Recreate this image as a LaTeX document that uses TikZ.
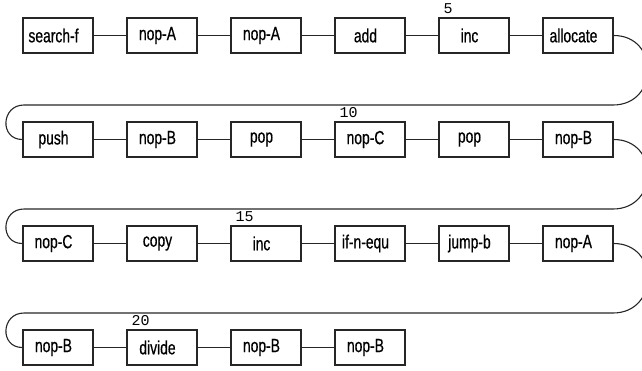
\documentclass[tikz,border=0pt]{standalone}
\usepackage{fontspec}
\setmainfont{Liberation Sans}[FakeStretch=0.73,FakeBold=0.6]
\newfontfamily\numfont{Liberation Mono}
\begin{document}
\begin{tikzpicture}[x=1pt,y=-1pt,
  box/.style={draw=black!85, line width=1.3pt, minimum width=70pt, minimum height=35pt, inner sep=0pt,
    font=\fontsize{19}{19}\selectfont, text=black, execute at begin node=\hspace*{-9pt}},
  link/.style={draw=black!85, line width=1.1pt},
  num/.style={font=\numfont\fontsize{15}{15}\selectfont, inner sep=0pt, anchor=base west, text=black}]
\useasboundingbox (0,0) rectangle (642,370);
% row 1
\node[box] (b1) at (58,35.5) {search-f};
\node[box] (b2) at (162,35.5) {nop-A};
\node[box] (b3) at (266,35.5) {nop-A};
\node[box] (b4) at (370,35.5) {add};
\node[box] (b5) at (474,35.5) {inc};
\node[box] (b6) at (578,35.5) {allocate};
% row 2
\node[box] (b7) at (58,139.5) {push};
\node[box] (b8) at (162,139.5) {nop-B};
\node[box] (b9) at (266,139.5) {pop};
\node[box] (b10) at (370,139.5) {nop-C};
\node[box] (b11) at (474,139.5) {pop};
\node[box] (b12) at (578,139.5) {nop-B};
% row 3
\node[box] (b13) at (58,243.5) {nop-C};
\node[box] (b14) at (162,243.5) {copy};
\node[box] (b15) at (266,243.5) {inc};
\node[box] (b16) at (370,243.5) {if-n-equ};
\node[box] (b17) at (474,243.5) {jump-b};
\node[box] (b18) at (578,243.5) {nop-A};
% row 4
\node[box] (b19) at (58,347.5) {nop-B};
\node[box] (b20) at (162,347.5) {divide};
\node[box] (b21) at (266,347.5) {nop-B};
\node[box] (b22) at (370,347.5) {nop-B};
% numbers
\node[num] (n5) at ([xshift=5pt,yshift=4pt]b5.north west) {5};
\node[num] (n10) at ([xshift=5pt,yshift=4pt]b10.north west) {10};
\node[num] (n15) at ([xshift=5pt,yshift=4pt]b15.north west) {15};
\node[num] (n20) at ([xshift=5pt,yshift=4pt]b20.north west) {20};
% in-row links
\foreach \a/\b in {1/2,2/3,3/4,4/5,5/6,7/8,8/9,9/10,10/11,11/12,13/14,14/15,15/16,16/17,17/18,19/20,20/21,21/22}
  \draw[link] (b\a) -- (b\b);
% wrap coordinates
\coordinate (r1) at (613,105);
\coordinate (l1) at (24,105);
\coordinate (r2) at (613,209);
\coordinate (l2) at (24,209);
\coordinate (r3) at (613,313);
\coordinate (l3) at (24,313);
\draw[link] (b6.east) .. controls +(46,0) and +(46,0) .. (r1) -- (l1) .. controls +(-23,0) and +(-23,0) .. (b7.west);
\draw[link] (b12.east) .. controls +(46,0) and +(46,0) .. (r2) -- (l2) .. controls +(-23,0) and +(-23,0) .. (b13.west);
\draw[link] (b18.east) .. controls +(46,0) and +(46,0) .. (r3) -- (l3) .. controls +(-23,0) and +(-23,0) .. (b19.west);
\end{tikzpicture}
\end{document}
